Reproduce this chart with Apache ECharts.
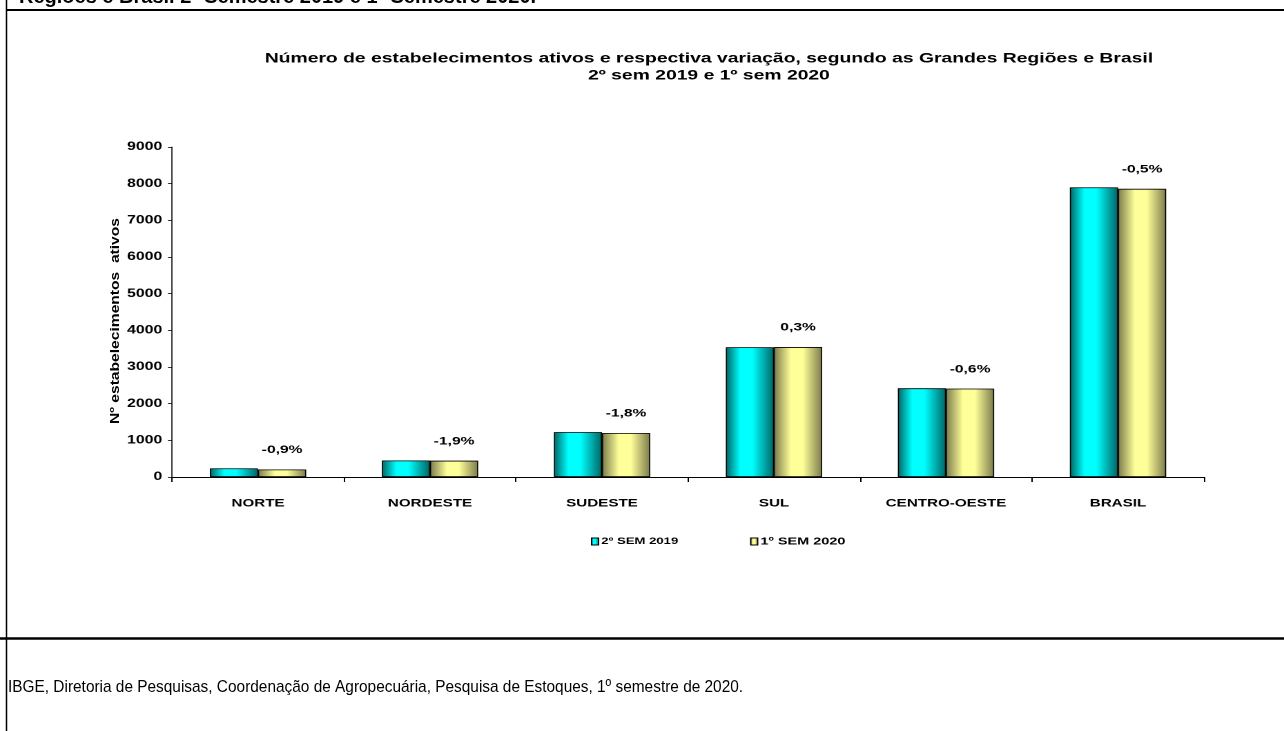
<!DOCTYPE html>
<html>
<head>
<meta charset="utf-8">
<script src="https://cdn.jsdelivr.net/npm/echarts@6/dist/echarts.min.js"></script>
<style>
html,body{margin:0;padding:0;background:#fff;overflow:hidden;}
#wrap{position:relative;width:1284px;height:731px;}
#frame{position:absolute;left:0;top:0;width:1284px;height:731px;}
#chart{position:absolute;left:0;top:0;width:930px;height:731px;transform-origin:0 0;transform:scaleX(1.38065);}
</style>
</head>
<body>
<div id="wrap">
  <div id="frame"></div>
  <div id="chart"></div>
</div>
<script>
const categories = ['NORTE', 'NORDESTE', 'SUDESTE', 'SUL', 'CENTRO-OESTE', 'BRASIL'];
const sem2019 = [235, 450, 1225, 3540, 2420, 7900];
const sem2020 = [205, 445, 1200, 3545, 2410, 7860];
const variation = ['-0,9%', '-1,9%', '-1,8%', '0,3%', '-0,6%', '-0,5%'];
const seriesNames = ['2º SEM 2019', '1º SEM 2020'];
const yTicks = [0, 1000, 2000, 3000, 4000, 5000, 6000, 7000, 8000, 9000];

const FONT = '"Liberation Sans", Arial, sans-serif';
const SX = 1284 / 930; // the original chart picture is stretched horizontally
const px = x => x / SX;  // screen x -> chart x

const cyanGrad = new echarts.graphic.LinearGradient(0, 0, 1, 0, [
  {offset: 0, color: '#006464'},
  {offset: 0.3, color: '#00ffff'},
  {offset: 0.55, color: '#00ffff'},
  {offset: 1, color: '#006464'}
]);
const goldGrad = new echarts.graphic.LinearGradient(0, 0, 1, 0, [
  {offset: 0, color: '#7a7a4c'},
  {offset: 0.35, color: '#ffff99'},
  {offset: 0.6, color: '#ffff99'},
  {offset: 1, color: '#7a7a4c'}
]);

// Frame: borders, cut page title, y-axis name, source note (not stretched)
const frame = echarts.init(document.getElementById('frame'), null, {renderer: 'canvas'});
frame.setOption({
  animation: false,
  backgroundColor: '#ffffff',
  graphic: [
    {type: 'line', shape: {x1: 6, y1: 10, x2: 1284, y2: 10}, style: {stroke: '#000', lineWidth: 2}},
    {type: 'line', shape: {x1: 6.5, y1: 0, x2: 6.5, y2: 731}, style: {stroke: '#000', lineWidth: 1.5}},
    {type: 'line', shape: {x1: 0, y1: 638.5, x2: 1284, y2: 638.5}, style: {stroke: '#000', lineWidth: 2.5}},
    {type: 'text', x: 19, y: -13,
     style: {text: 'Regiões e Brasil 2º Semestre 2019 e 1º Semestre 2020.', fontFamily: FONT, fontSize: 20, fontWeight: 'bold', fill: '#000'}},
    {type: 'text', x: 115, y: 321, rotation: Math.PI / 2, scaleX: 1.2,
     style: {text: 'Nº estabelecimentos  ativos', fontFamily: FONT, fontSize: 13, fontWeight: 'bold', fill: '#000', align: 'center', verticalAlign: 'middle'}},
    {type: 'text', x: 8, y: 679, scaleX: 0.906,
     style: {text: 'IBGE, Diretoria de Pesquisas, Coordenação de Agropecuária, Pesquisa de Estoques, 1º semestre de 2020.', fontFamily: FONT, fontSize: 17, fill: '#000'}}
  ]
});

const chart = echarts.init(document.getElementById('chart'), null, {renderer: 'canvas', devicePixelRatio: 2});
chart.setOption({
  animation: false,
  backgroundColor: 'transparent',
  textStyle: {fontFamily: FONT},
  title: {
    text: 'Número de estabelecimentos ativos e respectiva variação, segundo as Grandes Regiões e Brasil\n2º sem 2019 e 1º sem 2020',
    left: px(702), top: 45, textAlign: 'center',
    textStyle: {fontFamily: FONT, fontSize: 14, fontWeight: 'bold', color: '#000', lineHeight: 17}
  },
  legend: {
    data: [
      {name: seriesNames[0], textStyle: {fontSize: 9.5}},
      {name: seriesNames[1], textStyle: {fontSize: 10.5}}
    ],
    left: px(584), top: 531,
    itemWidth: 5, itemHeight: 7, itemGap: 52,
    icon: 'rect',
    textStyle: {fontFamily: FONT, fontWeight: 'bold', color: '#000', padding: [0, 0, 0, -3]},
    itemStyle: {borderColor: '#000', borderWidth: 1}
  },
  grid: {left: px(172), right: 930 - px(1204), top: 147, bottom: 254, containLabel: false},
  xAxis: {
    type: 'category',
    data: categories,
    axisLine: {lineStyle: {color: '#000', width: 1}},
    axisTick: {show: true, length: 5, lineStyle: {color: '#000'}},
    axisLabel: {fontFamily: FONT, fontSize: 11, fontWeight: 'bold', color: '#000', margin: 21},
    splitLine: {show: false}
  },
  yAxis: {
    type: 'value',
    min: yTicks[0], max: yTicks[yTicks.length - 1], interval: 1000,
    axisLine: {show: true, lineStyle: {color: '#000', width: 0.8}},
    axisTick: {show: true, length: 3, lineStyle: {color: '#000', width: 0.8}},
    axisLabel: {fontFamily: FONT, fontSize: 11.5, fontWeight: 'bold', color: '#000', margin: 7,
                formatter: v => String(v)},
    splitLine: {show: false}
  },
  series: [
    {
      name: seriesNames[0], type: 'bar', data: sem2019,
      barGap: '0%', barCategoryGap: '44%',
      itemStyle: {color: cyanGrad, borderColor: '#000', borderWidth: 0.8}
    },
    {
      name: seriesNames[1], type: 'bar', data: sem2020,
      itemStyle: {color: goldGrad, borderColor: '#000', borderWidth: 0.8},
      label: {
        show: true, position: 'top', distance: 14,
        formatter: p => variation[p.dataIndex],
        fontFamily: FONT, fontSize: 11.3, fontWeight: 'bold', color: '#000'
      }
    }
  ]
});
</script>
</body>
</html>
